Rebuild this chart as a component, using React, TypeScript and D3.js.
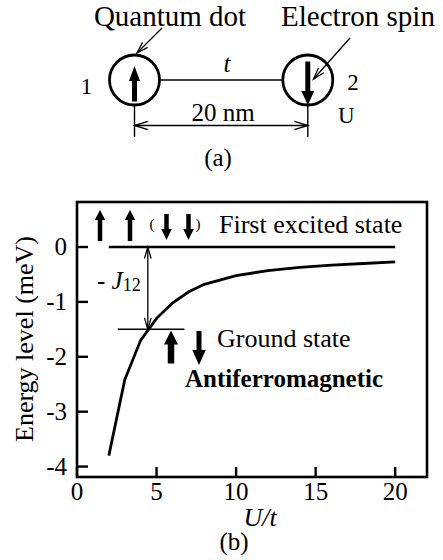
import React from "react";
import * as d3 from "d3";

// ground-state energy vs U/t
const uOverT = [2, 3, 4, 5, 6, 7, 8, 10, 12, 14, 16, 18, 20];
const groundEnergy = [-3.8, -2.42, -1.7, -1.3, -1.02, -0.82, -0.68, -0.52, -0.43, -0.37, -0.33, -0.3, -0.27];
// first excited state (flat at 0)
const excitedU = [2, 20];
const excitedEnergy = [0, 0];
const xTicks = [0, 5, 10, 15, 20];
const yTicks = [0, -1, -2, -3, -4];

const FONT = "'Liberation Serif', serif";

function blockArrow(x: number, tail: number, tip: number, shaft: number, head: number, headLen: number) {
  const d = tail > tip ? 1 : -1;
  const hb = tip + d * headLen;
  return `M${x - shaft / 2},${tail} L${x - shaft / 2},${hb} L${x - head / 2},${hb} L${x},${tip} L${x + head / 2},${hb} L${x + shaft / 2},${hb} L${x + shaft / 2},${tail} Z`;
}

// open "V" arrow head at (x2,y2), pointing away from (x1,y1)
function openHead(x1: number, y1: number, x2: number, y2: number, len = 12, spread = 0.3) {
  const a = Math.atan2(y2 - y1, x2 - x1);
  const p1 = [x2 - len * Math.cos(a - spread), y2 - len * Math.sin(a - spread)];
  const p2 = [x2 - len * Math.cos(a + spread), y2 - len * Math.sin(a + spread)];
  return `M${p1} L${x2},${y2} L${p2}`;
}

function T(props: any) {
  const { size, italic, bold, children, ...rest } = props;
  return (
    <text {...rest} style={{ fontFamily: FONT, fontSize: size, fontStyle: italic ? "italic" : "normal", fontWeight: bold ? "bold" : "normal" }}>
      {children}
    </text>
  );
}

export default function App() {
  // panel (a) geometry
  const c1 = 134.5, c2 = 307.8, cy = 80, r = 25, dimY = 125.5;

  // panel (b) scales
  const left = 77, right = 427, top = 202, bottom = 477;
  const x = d3.scaleLinear().domain([0, 22]).range([left, right]);
  const y = d3.scaleLinear().domain([-4.19, 0.82]).range([bottom, top]);
  const line = d3.line<number>().x((_, i) => x(uOverT[i])).y(d => y(d));
  const line0 = d3.line<number>().x((_, i) => x(excitedU[i])).y(d => y(d));
  const jx = x(4.45);

  const thin = { fill: "none", stroke: "#000" };

  return (
    <div style={{ position: "absolute", left: 0, top: 0 }}>
      <svg width={443} height={560} style={{ display: "block", background: "#fff" }}>
        {/* ---------- panel (a) ---------- */}
        <T x={170} y={26} size={29} textAnchor="middle">Quantum dot</T>
        <T x={358} y={26} size={29} textAnchor="middle">Electron spin</T>

        <line x1={c1 + r} x2={c2 - r} y1={cy} y2={cy} stroke="#000" strokeWidth={1.6} />
        {[c1, c2].map(cx => (
          <g key={cx}>
            <circle cx={cx} cy={cy} r={r} fill="none" stroke="#000" strokeWidth={2.8} />
            <line x1={cx} x2={cx} y1={cy + r} y2={137} stroke="#000" strokeWidth={1.4} />
          </g>
        ))}
        <path d={blockArrow(c1, 101.5, 66, 5, 11, 15)} fill="#000" />
        <path d={blockArrow(c2, 61.5, 105, 5, 13, 14)} fill="#000" />

        <T x={227} y={72} size={25} italic textAnchor="middle">t</T>
        <T x={86.5} y={94} size={23} textAnchor="middle">1</T>
        <T x={353} y={90} size={23} textAnchor="middle">2</T>
        <T x={338} y={123} size={23}>U</T>

        <line x1={c1} x2={c2} y1={dimY} y2={dimY} stroke="#000" strokeWidth={1.4} />
        <path d={openHead(c2, dimY, c1, dimY, 14, 0.3)} {...thin} strokeWidth={1.4} />
        <path d={openHead(c1, dimY, c2, dimY, 14, 0.3)} {...thin} strokeWidth={1.4} />
        <T x={223} y={121} size={25} textAnchor="middle">20 nm</T>

        <line x1={162} y1={28} x2={137} y2={53} stroke="#000" strokeWidth={1.3} />
        <path d={openHead(162, 28, 137, 53, 12, 0.3)} {...thin} strokeWidth={1.3} />
        <line x1={350} y1={38} x2={313.5} y2={79} stroke="#000" strokeWidth={1.3} />
        <path d={openHead(350, 38, 313.5, 79, 12, 0.3)} {...thin} strokeWidth={1.3} />

        <T x={218} y={166} size={25} textAnchor="middle">(a)</T>

        {/* ---------- panel (b) ---------- */}
        <rect x={left} y={top} width={right - left} height={bottom - top} fill="none" stroke="#000" strokeWidth={2.6} />

        {xTicks.map(d => (
          <g key={"x" + d}>
            <line x1={x(d)} x2={x(d)} y1={bottom} y2={bottom - 10} stroke="#000" strokeWidth={2.4} />
            <T x={x(d)} y={500} size={25} textAnchor="middle">{String(d)}</T>
          </g>
        ))}
        {yTicks.map(d => (
          <g key={"y" + d}>
            <line x1={left} x2={left + 11} y1={y(d)} y2={y(d)} stroke="#000" strokeWidth={2.4} />
            <T x={67} y={y(d) + 8} size={25} textAnchor="end">{String(d)}</T>
          </g>
        ))}

        <T transform="translate(33,339) rotate(-90)" size={26} textAnchor="middle">Energy level (meV)</T>
        <T x={260} y={526} size={26} italic textAnchor="middle">U/t</T>
        <T x={234} y={550} size={25} textAnchor="middle">(b)</T>

        <path d={line(groundEnergy) ?? ""} fill="none" stroke="#000" strokeWidth={2.8} />
        <path d={line0(excitedEnergy) ?? ""} fill="none" stroke="#000" strokeWidth={2.4} />

        {/* ground-state level marker and J12 gap */}
        <line x1={x(2.56)} x2={x(6.75)} y1={y(-1.5)} y2={y(-1.5)} stroke="#000" strokeWidth={1.5} />
        <line x1={jx} x2={jx} y1={y(0)} y2={y(-1.5)} stroke="#000" strokeWidth={1.3} />
        <path d={openHead(jx, y(-1.5), jx, y(0), 12, 0.28)} {...thin} strokeWidth={1.3} />
        <path d={openHead(jx, y(0), jx, y(-1.5), 12, 0.28)} {...thin} strokeWidth={1.3} />
        <T x={97} y={289} size={25}>
          {"- "}
          <tspan style={{ fontStyle: "italic" }}>J</tspan>
          <tspan style={{ fontSize: 18 }} dy={2}>12</tspan>
        </T>

        {/* spin arrows: first excited state */}
        {[100, 130].map(ax => <path key={ax} d={blockArrow(ax, 241, 210, 4.5, 10.5, 10)} fill="#000" />)}
        {[166.5, 188.5].map(ax => <path key={ax} d={blockArrow(ax, 214, 240, 4.5, 10.5, 11)} fill="#000" />)}
        <T x={152} y={229} size={15} textAnchor="middle">(</T>
        <T x={198} y={229} size={15} textAnchor="middle">)</T>
        <T x={219} y={233} size={26}>First excited state</T>

        {/* spin arrows: ground state */}
        <path d={blockArrow(171, 363.5, 330.5, 6.5, 14, 14)} fill="#000" />
        <path d={blockArrow(199, 331, 365, 5, 13.5, 15)} fill="#000" />
        <T x={217} y={347} size={26}>Ground state</T>
        <T x={185} y={387} size={25} bold>Antiferromagnetic</T>
      </svg>
    </div>
  );
}
